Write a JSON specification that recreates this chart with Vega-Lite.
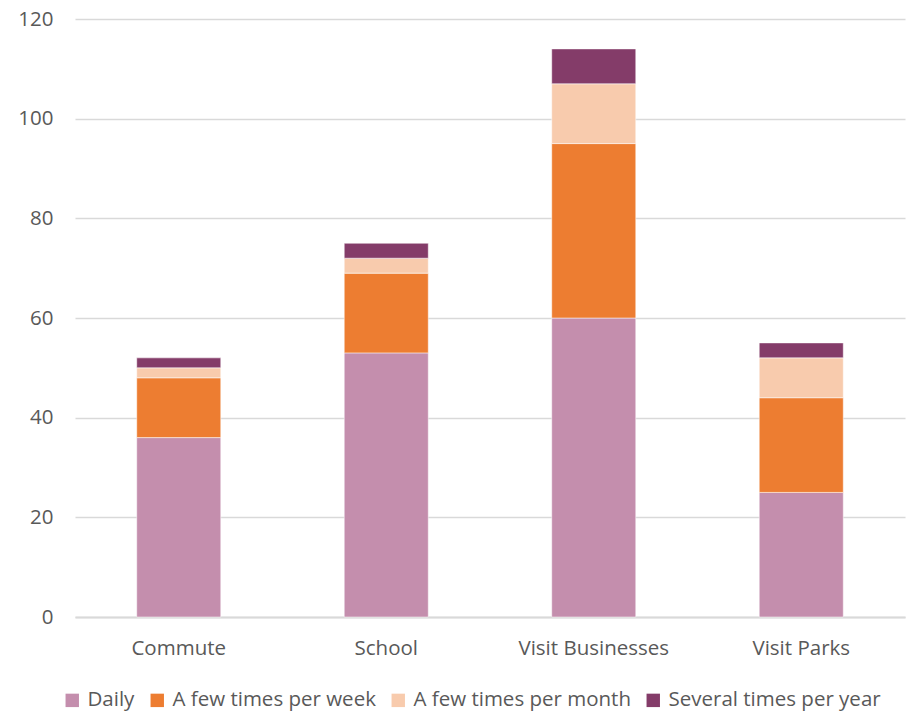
{
  "$schema": "https://vega.github.io/schema/vega-lite/v6.json",
  "width": 830,
  "height": 598,
  "autosize": {"type": "none"},
  "padding": {"left": 75, "top": 19, "right": 14, "bottom": 97},
  "background": "white",
  "config": {
    "view": {"stroke": null},
    "font": "Open Sans",
    "axis": {"labelColor": "#595959", "labelFontSize": 20.5, "labelFont": "Open Sans"}
  },
  "data": {
    "values": [
      {"place": "Commute", "freq": "Daily", "o": 1, "v": 36},
      {"place": "Commute", "freq": "A few times per week", "o": 2, "v": 12},
      {"place": "Commute", "freq": "A few times per month", "o": 3, "v": 2},
      {"place": "Commute", "freq": "Several times per year", "o": 4, "v": 2},
      {"place": "School", "freq": "Daily", "o": 1, "v": 53},
      {"place": "School", "freq": "A few times per week", "o": 2, "v": 16},
      {"place": "School", "freq": "A few times per month", "o": 3, "v": 3},
      {"place": "School", "freq": "Several times per year", "o": 4, "v": 3},
      {"place": "Visit Businesses", "freq": "Daily", "o": 1, "v": 60},
      {"place": "Visit Businesses", "freq": "A few times per week", "o": 2, "v": 35},
      {"place": "Visit Businesses", "freq": "A few times per month", "o": 3, "v": 12},
      {"place": "Visit Businesses", "freq": "Several times per year", "o": 4, "v": 7},
      {"place": "Visit Parks", "freq": "Daily", "o": 1, "v": 25},
      {"place": "Visit Parks", "freq": "A few times per week", "o": 2, "v": 19},
      {"place": "Visit Parks", "freq": "A few times per month", "o": 3, "v": 8},
      {"place": "Visit Parks", "freq": "Several times per year", "o": 4, "v": 3}
    ]
  },
  "mark": {"type": "bar", "stroke": "#ffffff", "strokeOpacity": 0.5, "strokeWidth": 1},
  "encoding": {
    "x": {
      "field": "place", "type": "nominal", "sort": null,
      "scale": {"paddingInner": 0.595, "paddingOuter": 0.2975},
      "axis": {"title": null, "labelAngle": 0, "domainColor": "#d9d9d9", "domainWidth": 2, "ticks": false, "labelPadding": 21}
    },
    "y": {
      "field": "v", "type": "quantitative", "stack": "zero",
      "scale": {"domain": [0, 120]},
      "axis": {"title": null, "values": [0, 20, 40, 60, 80, 100, 120], "grid": true, "gridColor": "#d9d9d9", "gridWidth": 1.3, "domain": false, "ticks": false, "labelPadding": 22}
    },
    "order": {"field": "o", "type": "quantitative"},
    "color": {
      "field": "freq", "type": "nominal",
      "scale": {
        "domain": ["Daily", "A few times per week", "A few times per month", "Several times per year"],
        "range": ["#c48ead", "#ed7d31", "#f8cbad", "#843c69"]
      },
      "legend": {
        "title": null, "orient": "none", "direction": "horizontal",
        "legendX": -13, "legendY": 671,
        "symbolType": "square", "symbolSize": 180, "symbolStrokeWidth": 0,
        "labelFontSize": 20.5, "labelColor": "#595959", "labelFont": "Open Sans",
        "columnPadding": 12, "labelOffset": 5, "labelLimit": 400
      }
    }
  }
}
